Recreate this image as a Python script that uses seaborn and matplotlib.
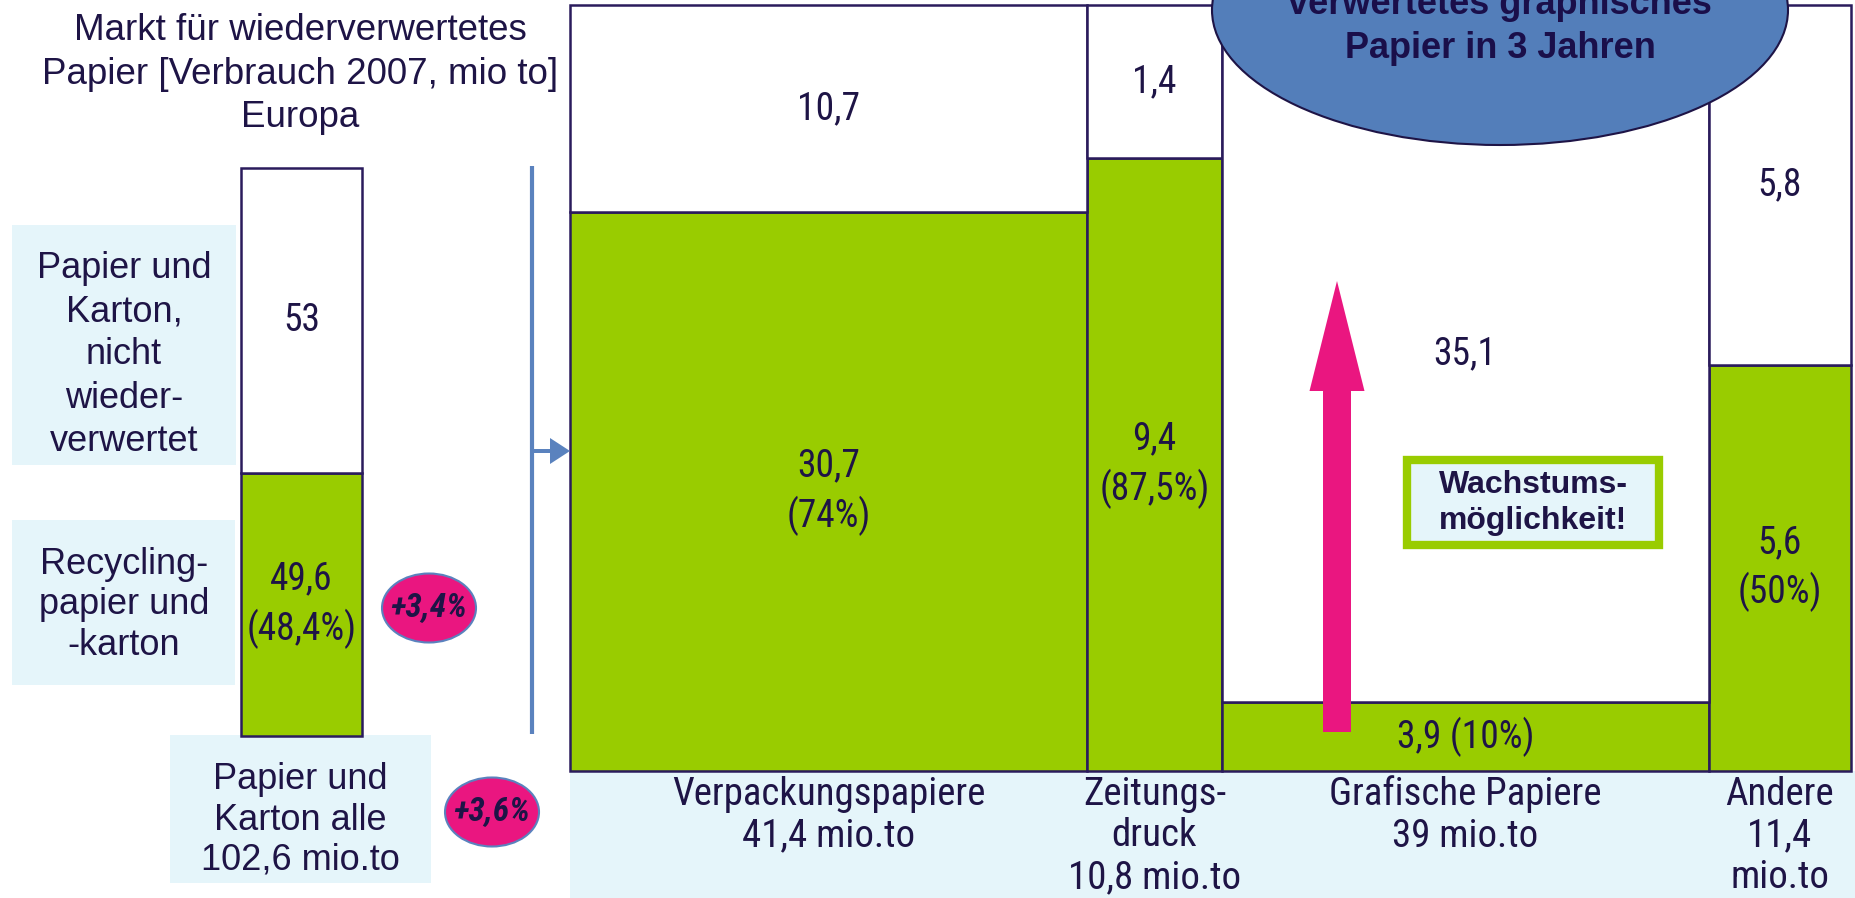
import numpy as np
import pandas as pd
import matplotlib
matplotlib.use('Agg')
import matplotlib.pyplot as plt
import seaborn as sns
from matplotlib.patches import Rectangle, Ellipse, FancyArrow

# Markt fuer wiederverwertetes Papier, Europa 2007 [mio to]
titel = 'Markt für wiederverwertetes\nPapier [Verbrauch 2007, mio to]\nEuropa'

# linke Saeule: alle Papiere
links_teile = ['Papier und\nKarton,\nnicht\nwieder-\nverwertet', 'Recycling-\npapier und\n-karton']
links_werte = ['53', '49,6\n(48,4%)']
links_gruen_anteil = 0.463          # so wie im Original gezeichnet
links_gesamt = 'Papier und\nKarton alle\n102,6 mio.to'
wachstum = ['+3,4%', '+3,6%']

# rechte Saeulen: Sorten
sorten = ['Verpackungspapiere\n41,4 mio.to', 'Zeitungs-\ndruck\n10,8 mio.to',
          'Grafische Papiere\n39 mio.to', 'Andere\n11,4\nmio.to']
sorten_gesamt = [41.4, 10.8, 39.0, 11.4]
gruen_anteil = [0.73, 0.80, 0.09, 0.53]   # so wie im Original gezeichnet
weiss_labels = ['10,7', '1,4', '35,1', '5,8']
gruen_labels = ['30,7\n(74%)', '9,4\n(87,5%)', '3,9 (10%)', '5,6\n(50%)']

GRUEN = '#99cc00'
HELLBLAU = '#e5f5fa'
RAND = '#2a1b5c'
TEXT = '#1e1446'
BLAU = '#5a82be'
MAGENTA = '#ea1680'

BODY = ['Liberation Sans', 'DejaVu Sans']
NARROW = ['Liberation Sans Narrow', 'Roboto Condensed', 'Liberation Sans', 'DejaVu Sans']

sns.set_theme(style='white')
plt.rcParams['font.family'] = BODY

W, H = 1856, 898
fig = plt.figure(figsize=(W / 100, H / 100), dpi=100)
fig.patch.set_facecolor('white')


def box(x0, y0, x1, y1):
    # pixel box -> figure fraction
    return [x0 / W, 1 - y1 / H, (x1 - x0) / W, (y1 - y0) / H]


# overlay for boxes / decoration (pixel coords), drawn behind the bars first
deko = fig.add_axes([0, 0, 1, 1], zorder=0)
deko.set_xlim(0, W)
deko.set_ylim(H, 0)
deko.axis('off')

for x0, y0, x1, y1 in [(12, 225, 236, 465), (12, 520, 235, 685),
                       (170, 735, 431, 883), (570, 771, 1856, 898)]:
    deko.add_patch(Rectangle((x0, y0), x1 - x0, y1 - y0, facecolor=HELLBLAU, edgecolor='none'))

deko.text(300, 74, titel, ha='center', va='center', fontsize=26.5, color=TEXT, linespacing=1.32)
deko.text(124, 355, links_teile[0], ha='center', va='center', fontsize=26, color=TEXT, linespacing=1.3)
deko.text(124, 605, links_teile[1], ha='center', va='center', fontsize=26, color=TEXT, linespacing=1.2)
deko.text(300, 820, links_gesamt, ha='center', va='center', fontsize=26, color=TEXT, linespacing=1.2)

# left stacked column
ax_l = fig.add_axes(box(241, 168, 362, 736), zorder=1)
df_l = pd.DataFrame({'x': [0.5, 0.5],
                     'h': [1 - links_gruen_anteil, links_gruen_anteil],
                     'teil': ['weiss', 'gruen']})
sns.histplot(data=df_l, x='x', weights='h', hue='teil', hue_order=['weiss', 'gruen'],
             bins=[0, 1], multiple='stack', palette={'weiss': 'white', 'gruen': GRUEN},
             edgecolor=RAND, linewidth=1.8, alpha=1, legend=False, ax=ax_l)
ax_l.set_xlim(0, 1)
ax_l.set_ylim(0, 1)
ax_l.axis('off')
for p in ax_l.patches:
    p.set_clip_on(False)
ax_l.text(0.5, links_gruen_anteil + (1 - links_gruen_anteil) / 2, links_werte[0],
          ha='center', va='center', fontsize=27, color=TEXT, family=NARROW)
ax_l.text(0.5, links_gruen_anteil / 2, links_werte[1], ha='center', va='center',
          fontsize=27, color=TEXT, family=NARROW, linespacing=1.35)

# main marimekko
ax = fig.add_axes(box(570, 5, 1851, 771), zorder=1)
breite = np.array(sorten_gesamt)
kanten = np.concatenate([[0], np.cumsum(breite)])
mitte = kanten[:-1] + breite / 2
anteil = np.array(gruen_anteil)
df = pd.DataFrame({'mitte': np.concatenate([mitte, mitte]),
                   'h': np.concatenate([1 - anteil, anteil]),
                   'teil': ['weiss'] * 4 + ['gruen'] * 4})
sns.histplot(data=df, x='mitte', weights='h', hue='teil', hue_order=['weiss', 'gruen'],
             bins=kanten.tolist(), multiple='stack', palette={'weiss': 'white', 'gruen': GRUEN},
             edgecolor=RAND, linewidth=1.8, alpha=1, legend=False, ax=ax)
ax.set_xlim(0, kanten[-1])
ax.set_ylim(0, 1)
ax.axis('off')
for p in ax.patches:
    p.set_clip_on(False)

for i in range(4):
    ax.text(mitte[i], anteil[i] + (1 - anteil[i]) / 2, weiss_labels[i], ha='center',
            va='center', fontsize=27, color=TEXT, family=NARROW)
    ax.text(mitte[i], anteil[i] / 2, gruen_labels[i], ha='center', va='center',
            fontsize=27, color=TEXT, family=NARROW, linespacing=1.35)
    ax.text(mitte[i], -0.006, sorten[i], ha='center', va='top', fontsize=28,
            color=TEXT, family=NARROW, linespacing=1.16, clip_on=False)

# top overlay: arrows, ellipses, callout
top = fig.add_axes([0, 0, 1, 1], zorder=2)
top.set_xlim(0, W)
top.set_ylim(H, 0)
top.axis('off')
top.patch.set_alpha(0)

top.plot([532, 532], [166, 734], color=BLAU, lw=3, solid_capstyle='butt')
top.add_patch(FancyArrow(532, 451, 38, 0, width=4, head_width=26, head_length=20,
                         length_includes_head=True, color=BLAU, lw=0))

for (cx, cy), txt in zip([(429, 608), (492, 812)], wachstum):
    top.add_patch(Ellipse((cx, cy), 94, 69, facecolor=MAGENTA, edgecolor=BLAU, lw=1.5))
    top.text(cx, cy, txt, ha='center', va='center', fontsize=24, color=TEXT,
             fontweight='bold', fontstyle='italic', family=NARROW)

top.add_patch(FancyArrow(1337, 732, 0, -451, width=28, head_width=55, head_length=110,
                         length_includes_head=True, color=MAGENTA, lw=0))

top.add_patch(Rectangle((1407, 460), 252, 85, facecolor=HELLBLAU, edgecolor=GRUEN, lw=6))
top.text(1533, 503, 'Wachstums-\nmöglichkeit!', ha='center', va='center', fontsize=23,
         fontweight='bold', color=TEXT, linespacing=1.24)

top.add_patch(Ellipse((1500, 10), 576, 270, facecolor='#537eba', edgecolor=TEXT, lw=1.5))
top.text(1500, 4, 'verwertetes graphisches', ha='center', va='center', fontsize=26,
         fontweight='bold', color='#1a0f4a')
top.text(1500, 49, 'Papier in 3 Jahren', ha='center', va='center', fontsize=26,
         fontweight='bold', color='#1a0f4a')

fig.savefig('out.png', dpi=100)
